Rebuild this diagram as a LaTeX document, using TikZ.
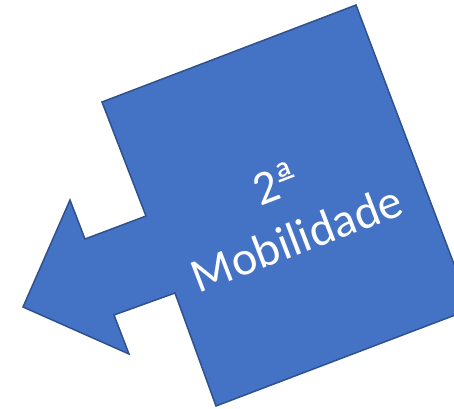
\documentclass[tikz,border=0pt]{standalone}
\usepackage{fontspec}
\setmainfont{Carlito}
\definecolor{fillblue}{HTML}{4472C4}
\definecolor{edgeblue}{HTML}{2F528F}
\newcommand\ordinalA{\leavevmode\setbox0\hbox{ª}\rlap{\hspace{0.03em}\raisebox{0.33em}{\rule{\dimexpr\wd0-0.06em\relax}{0.05em}}}\box0}
\begin{document}
\begin{tikzpicture}[x=1pt,y=-1pt]
\useasboundingbox (0,0) rectangle (454,408);
\clip (0,0) rectangle (454,408);
\draw[fill=fillblue, draw=edgeblue, line width=1.5pt, line join=miter]
  (102,102) -- (356,5) -- (471,309) -- (216,406) -- (175,293) -- (114,315)
  -- (129,354) -- (23,307) -- (70,200) -- (85,239) -- (146,216) -- cycle;
\node[rotate=21, text=white, font=\fontsize{48}{59}\selectfont, align=center, inner sep=0pt] (label) at (286,211) {2\ordinalA\\Mobilidade};
\end{tikzpicture}
\end{document}
